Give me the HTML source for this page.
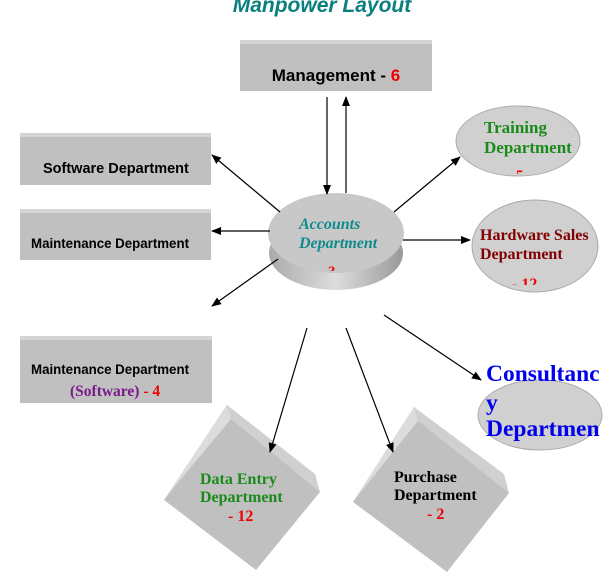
<!DOCTYPE html>
<html><head><style>body{margin:0;background:#fff}svg{display:block}</style></head><body>
<svg width="611" height="578" xmlns="http://www.w3.org/2000/svg">
<defs>
<marker id="a" markerWidth="10" markerHeight="8" refX="9" refY="4" orient="auto" markerUnits="userSpaceOnUse"><path d="M0,0L10,4L0,8z" fill="#000"/></marker>
<linearGradient id="cyl" x1="0" y1="0" x2="1" y2="0"><stop offset="0" stop-color="#aaa"/><stop offset=".5" stop-color="#ddd"/><stop offset="1" stop-color="#999"/></linearGradient>
<clipPath id="ct"><rect x="450" y="100" width="140" height="74"/></clipPath>
<clipPath id="ch"><rect x="460" y="195" width="150" height="90"/></clipPath>
<clipPath id="ca"><rect x="260" y="190" width="150" height="81"/></clipPath>
</defs>
<text x="322" y="12" text-anchor="middle" font-family="Liberation Sans,sans-serif" font-size="21" font-weight="bold" font-style="italic" fill="#0a7f7f">Manpower Layout</text>
<g font-family="Liberation Sans,sans-serif" font-weight="bold" font-size="14.5">
<rect x="240" y="40" width="192" height="51" fill="#c0c0c0"/><rect x="240" y="40" width="192" height="4" fill="#d4d4d4"/>
<text x="336" y="81" text-anchor="middle" font-size="17" fill="#000">Management - <tspan fill="#e00">6</tspan></text>
<rect x="20" y="133" width="191" height="52" fill="#c0c0c0"/><rect x="20" y="133" width="191" height="4" fill="#d4d4d4"/>
<text x="43" y="173" fill="#000">Software Department</text>
<rect x="20" y="209" width="191" height="51" fill="#c0c0c0"/><rect x="20" y="209" width="191" height="4" fill="#d4d4d4"/>
<text x="31" y="248" font-size="13.5" textLength="158" lengthAdjust="spacingAndGlyphs" fill="#000">Maintenance Department</text>
<rect x="20" y="336" width="192" height="67" fill="#c0c0c0"/><rect x="20" y="336" width="192" height="4" fill="#d4d4d4"/>
<text x="31" y="374" font-size="13.5" textLength="158" lengthAdjust="spacingAndGlyphs" fill="#000">Maintenance Department</text>
</g>
<text x="70" y="396" font-family="Liberation Serif,serif" font-weight="bold" font-size="15.5" fill="#7a1a8a">(Software) <tspan fill="#e00">- 4</tspan></text>
<ellipse cx="336" cy="253" rx="67" ry="37" fill="url(#cyl)"/>
<ellipse cx="336" cy="233" rx="68" ry="40" fill="#c8c8c8"/>
<g font-family="Liberation Serif,serif" font-weight="bold" font-style="italic" font-size="16" fill="#108a8a">
<text x="299" y="229">Accounts</text><text x="299" y="248">Department</text></g>
<text x="328" y="276" clip-path="url(#ca)" font-family="Liberation Serif,serif" font-weight="bold" font-size="15" fill="#e00">3</text>
<ellipse cx="518" cy="141" rx="62" ry="35" fill="#d0d0d0" stroke="#aaa"/>
<g font-family="Liberation Serif,serif" font-weight="bold" font-size="17" fill="#1a8a1a"><text x="484" y="133">Training</text><text x="484" y="153">Department</text></g>
<text x="516" y="180" clip-path="url(#ct)" font-family="Liberation Serif,serif" font-weight="bold" font-size="15" fill="#e00">5</text>
<ellipse cx="535" cy="246" rx="63" ry="46" fill="#d0d0d0" stroke="#aaa"/>
<g font-family="Liberation Serif,serif" font-weight="bold" font-size="16" fill="#800000"><text x="480" y="240">Hardware Sales</text><text x="480" y="259">Department</text></g>
<text x="512" y="289" clip-path="url(#ch)" font-family="Liberation Serif,serif" font-weight="bold" font-size="16" fill="#e00">- 12</text>
<ellipse cx="540" cy="415" rx="62" ry="35" fill="#d0d0d0" stroke="#aaa"/>
<g font-family="Liberation Serif,serif" font-weight="bold" font-size="23.5" fill="#0000ee"><text x="486" y="381">Consultanc</text><text x="486" y="410">y</text><text x="486" y="436">Departmen</text></g>
<polygon points="164,500 227,405 320,492 256,570" fill="#c0c0c0"/>
<polygon points="164,500 227,405 231,419 171,491" fill="#dcdcdc"/>
<polygon points="227,405 315,474 320,492 231,419" fill="#d0d0d0"/>
<polygon points="353,502 414,407 509,493 447,572" fill="#c0c0c0"/>
<polygon points="353,502 414,407 418,421 360,493" fill="#dcdcdc"/>
<polygon points="414,407 504,474 509,493 418,421" fill="#d0d0d0"/>
<g font-family="Liberation Serif,serif" font-weight="bold" font-size="16">
<text x="200" y="484" fill="#1a8a1a">Data Entry</text><text x="200" y="502" fill="#1a8a1a">Department</text><text x="228" y="521" fill="#e00">- 12</text>
<text x="394" y="482" fill="#000">Purchase</text><text x="394" y="500" fill="#000">Department</text><text x="427" y="519" fill="#e00">- 2</text>
</g>
<g stroke="#000" stroke-width="1.2" marker-end="url(#a)">
<line x1="327" y1="97" x2="327" y2="194"/>
<line x1="346" y1="193" x2="346" y2="97"/>
<line x1="280" y1="212" x2="212" y2="155"/>
<line x1="270" y1="231" x2="212" y2="231"/>
<line x1="278" y1="259" x2="212" y2="306"/>
<line x1="394" y1="212" x2="460" y2="157"/>
<line x1="403" y1="240" x2="470" y2="240"/>
<line x1="307" y1="328" x2="270" y2="452"/>
<line x1="346" y1="328" x2="393" y2="452"/>
<line x1="384" y1="315" x2="481" y2="380"/>
</g>
</svg>
</body></html>
